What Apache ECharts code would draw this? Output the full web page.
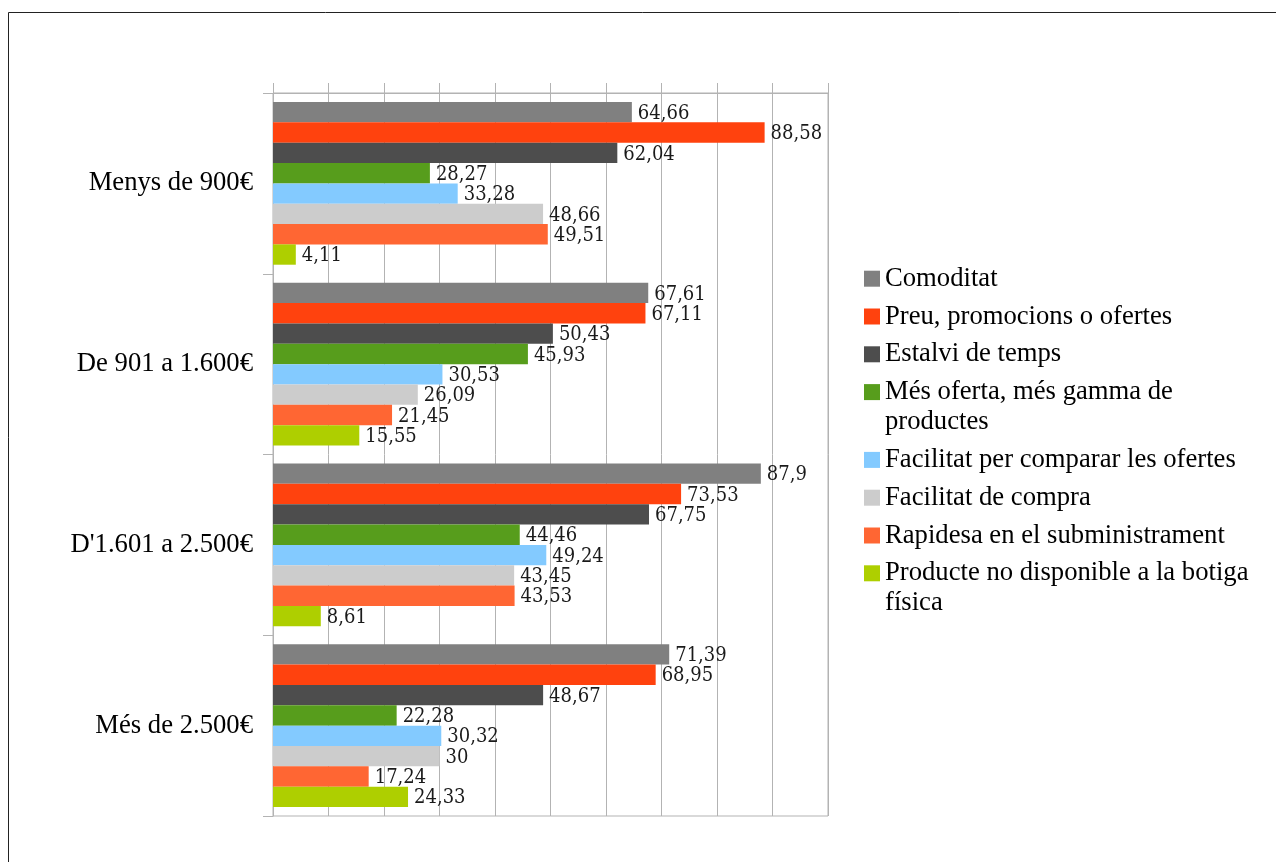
<!DOCTYPE html>
<html>
<head>
<meta charset="utf-8">
<script src="https://cdn.jsdelivr.net/npm/echarts@6/dist/echarts.min.js"></script>
<style>
html,body{margin:0;padding:0;background:#fff;}
#chart{width:1276px;height:862px;}
</style>
</head>
<body>
<div id="chart"></div>
<script>
var categories = ["Menys de 900€", "De 901 a 1.600€", "D'1.601 a 2.500€", "Més de 2.500€"];
var seriesNames = ["Comoditat", "Preu, promocions o ofertes", "Estalvi de temps", "Més oferta, més gamma de productes", "Facilitat per comparar les ofertes", "Facilitat de compra", "Rapidesa en el subministrament", "Producte no disponible a la botiga física"];
var comoditat = [64.66, 67.61, 87.9, 71.39];
var preu = [88.58, 67.11, 73.53, 68.95];
var estalvi = [62.04, 50.43, 67.75, 48.67];
var mesOferta = [28.27, 45.93, 44.46, 22.28];
var comparar = [33.28, 30.53, 49.24, 30.32];
var compra = [48.66, 26.09, 43.45, 30];
var rapidesa = [49.51, 21.45, 43.53, 17.24];
var noDisponible = [4.11, 15.55, 8.61, 24.33];
var seriesValues = [comoditat, preu, estalvi, mesOferta, comparar, compra, rapidesa, noDisponible];
var colors = ["#808080", "#ff420e", "#4d4d4d", "#579d1c", "#83caff", "#cccccc", "#ff6633", "#aecf00"];

var chart = echarts.init(document.getElementById('chart'));
var series = seriesNames.map(function (name, i) {
  return {
    name: name,
    type: 'bar',
    data: seriesValues[i],
    itemStyle: { color: colors[i] },
    barGap: '0%',
    barCategoryGap: '10%',
    label: {
      show: true,
      position: 'right',
      distance: 6,
      offset: [0, 1.5],
      fontFamily: "'DejaVu Serif Condensed', 'DejaVu Serif'",
      fontSize: 20,
      color: '#1a1a1a',
      formatter: function (p) { return String(p.value).replace('.', ','); }
    }
  };
});

// legend layout: one legend per entry so the icon sits beside the first text line
var legendLineH = 30;
var legendFirstCenter = 278.7;
var legends = [];
var c = legendFirstCenter;
seriesNames.forEach(function (name, i) {
  var twoLines = (i === 3 || i === 7);
  legends.push({
    orient: 'vertical', left: 864, top: twoLines ? c - 45 : c - 15, padding: 0,
    itemWidth: 16, itemHeight: 16, icon: 'rect',
    textStyle: {
      fontFamily: 'Liberation Serif', fontSize: 26.67, color: '#000',
      lineHeight: legendLineH, width: 385, overflow: 'break'
    },
    formatter: twoLines ? function (n) { return '\n' + n; } : '{name}',
    data: [name]
  });
  c += (twoLines ? 2 * legendLineH : legendLineH) + 7.8;
});

chart.setOption({
  animation: false,
  color: colors,
  grid: { left: 273, right: 448, top: 93, bottom: 46, show: true, borderColor: '#b3b3b3', borderWidth: 1 },
  xAxis: {
    type: 'value', position: 'top', min: 0, max: 100, interval: 10,
    axisLine: { show: true, lineStyle: { color: '#b3b3b3' } },
    axisTick: { show: true, length: 10, lineStyle: { color: '#b3b3b3' } },
    axisLabel: { show: false },
    splitLine: { show: true, lineStyle: { color: '#b3b3b3' } }
  },
  yAxis: {
    type: 'category', data: categories, inverse: true,
    axisLine: { show: true, lineStyle: { color: '#b3b3b3' } },
    axisTick: { show: true, length: 10, lineStyle: { color: '#b3b3b3' } },
    axisLabel: { fontFamily: 'Liberation Serif', fontSize: 26.67, color: '#000', margin: 20, padding: [7, 0, 0, 0] },
    splitLine: { show: false }
  },
  legend: legends,
  graphic: [{
    type: 'rect', silent: true,
    shape: { x: 8.5, y: 12.5, width: 1400, height: 1000 },
    style: { fill: 'none', stroke: '#222', lineWidth: 1 }
  }],
  series: series
});
</script>
</body>
</html>
